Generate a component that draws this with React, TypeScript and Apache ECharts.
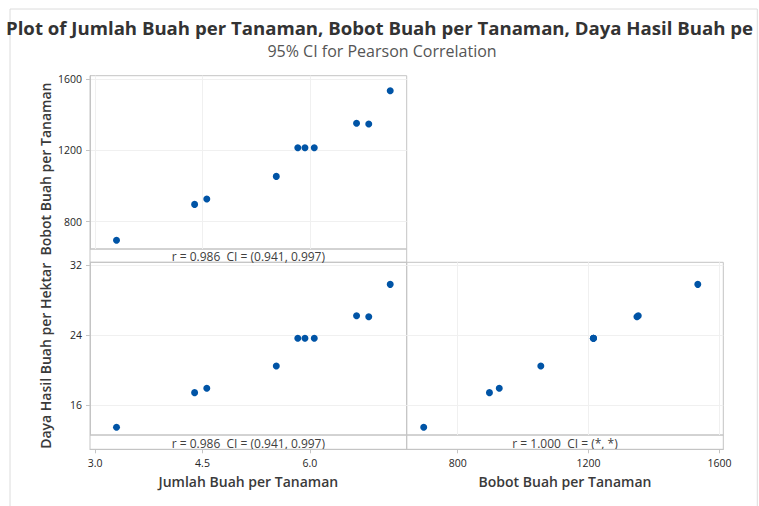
import React, { useEffect, useRef } from "react";
import * as echarts from "echarts";

const titleText =
  "Plot of Jumlah Buah per Tanaman, Bobot Buah per Tanaman, Daya Hasil Buah pe";
const subtitleText = "95% CI for Pearson Correlation";

const jumlahBuah = [3.3, 4.39, 4.56, 5.53, 5.83, 5.93, 6.06, 6.65, 6.82, 7.12];
const bobotBuah = [696, 897, 927, 1054, 1215, 1215, 1215, 1352, 1348, 1534];
const dayaHasil = [13.45, 17.41, 17.91, 20.46, 23.62, 23.62, 23.62, 26.21, 26.09, 29.79];

const jumlahTicks = [3.0, 4.5, 6.0];
const bobotTicks = [800, 1200, 1600];
const dayaTicks = [16, 24, 32];

const stat01 = "r = 0.986  CI = (0.941, 0.997)";
const stat02 = "r = 0.986  CI = (0.941, 0.997)";
const stat12 = "r = 1.000  CI = (*, *)";

const nameJumlah = "Jumlah Buah per Tanaman";
const nameBobot = "Bobot Buah per Tanaman";
const nameDaya = "Daya Hasil Buah per Hektar";

const FONT = "'Open Sans', 'Noto Sans', sans-serif";
const BORDER = "#c4c4c4";
const GRIDLINE = "#f0f0f0";
const DOT = "#0054a6";
const TXT = "#3a3a3a";
const TICKTXT = "#262626";

export default function App() {
  const ref = useRef<HTMLDivElement>(null);
  useEffect(() => {
    if (!ref.current) return;
    const chart = echarts.init(ref.current, null, { renderer: "svg" });

    const L = 90, M = 406.7, R = 723.3;
    const T0 = 75.7, S0 = 249, B0 = 262.3;
    const S1 = 435, B1 = 449.3;

    const fmt1 = (v: number) => v.toFixed(1);
    const fmt0 = (v: number) => String(Math.round(v));

    const axisLabel = { color: TICKTXT, fontSize: 10.5, fontFamily: FONT };
    const axisLine = { show: true, lineStyle: { color: BORDER } };
    const splitLine = { show: true, lineStyle: { color: GRIDLINE } };
    const tick = { show: true, length: 4, lineStyle: { color: BORDER } };

    const xJumlahRange = { min: 2.93, max: 7.35 };
    const yBobotRange = { min: 647, max: 1618.5 };
    const yDayaRange = { min: 12.57, max: 32.31 };
    const xBobotRange = { min: 644, max: 1612 };

    const scatter = (xi: number, xs: number[], ys: number[]) => ({
      type: "scatter",
      xAxisIndex: xi,
      yAxisIndex: xi,
      symbolSize: 7,
      itemStyle: { color: DOT, opacity: 1 },
      data: xs.map((x, i) => [x, ys[i]]),
    });

    const stripRect = (x: number, y: number, w: number, h: number) => ({
      type: "rect",
      shape: { x, y, width: w, height: h },
      style: { fill: "none", stroke: BORDER, lineWidth: 1 },
      silent: true,
    });
    const stripText = (cx: number, cy: number, t: string) => ({
      type: "text",
      x: cx,
      y: cy,
      style: {
        text: t,
        fill: "#404040",
        font: `12px ${FONT}`,
        textAlign: "center",
        textVerticalAlign: "middle",
      },
      silent: true,
    });

    chart.setOption({
      animation: false,
      backgroundColor: "#ffffff",
      title: [
        {
          text: titleText,
          left: "center",
          top: 17,
          padding: 0,
          textStyle: { fontSize: 18.6, fontWeight: "bold", color: "#333333", fontFamily: FONT, lineHeight: 20 },
        },
        {
          text: subtitleText,
          left: 382,
          textAlign: "center",
          top: 42,
          padding: 0,
          textStyle: { fontSize: 16, fontWeight: "normal", color: "#555555", fontFamily: FONT, lineHeight: 18 },
        },
      ],
      grid: [
        { left: L, top: T0, width: M - L, height: S0 - T0, show: true, borderColor: BORDER, borderWidth: 1 },
        { left: L, top: B0, width: M - L, height: S1 - B0, show: true, borderColor: BORDER, borderWidth: 1 },
        { left: M, top: B0, width: R - M, height: S1 - B0, show: true, borderColor: BORDER, borderWidth: 1 },
      ],
      xAxis: [
        {
          gridIndex: 0, type: "value", ...xJumlahRange,
          axisLine: { show: false }, axisLabel: { show: false },
          axisTick: { show: false, customValues: jumlahTicks },
          splitLine,
        },
        {
          gridIndex: 1, type: "value", ...xJumlahRange, offset: B1 - S1,
          axisLine, axisLabel: { ...axisLabel, customValues: jumlahTicks, formatter: fmt1 },
          axisTick: { ...tick, customValues: jumlahTicks },
          splitLine: { show: false },
          name: nameJumlah, nameLocation: "middle", nameGap: 25,
          nameTextStyle: { fontSize: 14, color: TXT, fontFamily: FONT, fontWeight: 600 },
        },
        {
          gridIndex: 2, type: "value", ...xBobotRange, offset: B1 - S1,
          axisLine, axisLabel: { ...axisLabel, customValues: bobotTicks, formatter: fmt0 },
          axisTick: { ...tick, customValues: bobotTicks },
          splitLine,
          name: nameBobot, nameLocation: "middle", nameGap: 25,
          nameTextStyle: { fontSize: 14, color: TXT, fontFamily: FONT, fontWeight: 600 },
        },
      ],
      yAxis: [
        {
          gridIndex: 0, type: "value", ...yBobotRange,
          axisLine, axisLabel: { ...axisLabel, customValues: bobotTicks, formatter: fmt0 },
          axisTick: { ...tick, customValues: bobotTicks },
          splitLine,
        },
        {
          gridIndex: 1, type: "value", ...yDayaRange,
          axisLine, axisLabel: { ...axisLabel, customValues: dayaTicks, formatter: fmt0 },
          axisTick: { ...tick, customValues: dayaTicks },
          splitLine,
        },
        {
          gridIndex: 2, type: "value", ...yDayaRange,
          axisLine: { show: false }, axisLabel: { show: false },
          axisTick: { show: false, customValues: dayaTicks },
          splitLine,
        },
      ],
      series: [
        scatter(0, jumlahBuah, bobotBuah),
        scatter(1, jumlahBuah, dayaHasil),
        scatter(2, bobotBuah, dayaHasil),
      ],
      graphic: [
        {
          type: "rect",
          shape: { x: 10, y: 9, width: 747.3, height: 510 },
          style: { fill: "none", stroke: "#dcdcdc", lineWidth: 1 },
          silent: true, z: -10,
        },
        stripRect(L, S0, M - L, B0 - S0),
        stripRect(L, S1, M - L, B1 - S1),
        stripRect(M, S1, R - M, B1 - S1),
        stripText((L + M) / 2, (S0 + B0) / 2 + 1, stat01),
        stripText((L + M) / 2, (S1 + B1) / 2 + 1, stat02),
        stripText((M + R) / 2, (S1 + B1) / 2 + 1, stat12),
        {
          type: "text", x: 45, y: (T0 + B0) / 2, rotation: Math.PI / 2,
          style: { text: nameBobot, fill: TXT, font: `600 14px ${FONT}`, textAlign: "center", textVerticalAlign: "middle" },
          silent: true,
        },
        {
          type: "text", x: 45, y: (B0 + B1) / 2, rotation: Math.PI / 2,
          style: { text: nameDaya, fill: TXT, font: `600 14px ${FONT}`, textAlign: "center", textVerticalAlign: "middle" },
          silent: true,
        },
      ],
    });
    return () => chart.dispose();
  }, []);
  return (
    <div
      ref={ref}
      style={{ position: "absolute", left: 0, top: 0, width: 759, height: 506 }}
    />
  );
}
